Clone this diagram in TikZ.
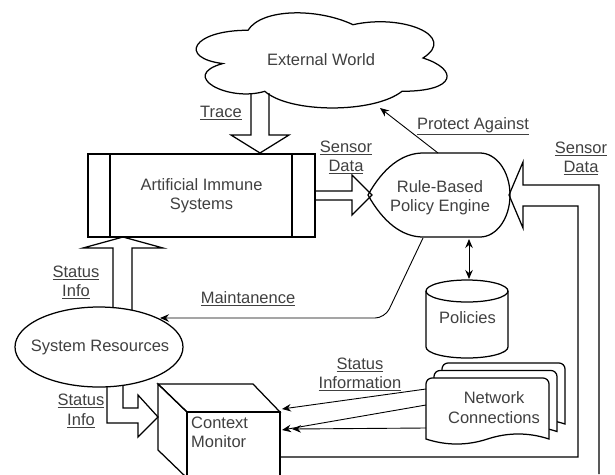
\documentclass[tikz,border=0pt]{standalone}
\usepackage{fontspec}
\setmainfont{Liberation Sans}
\usetikzlibrary{arrows.meta}
\newcommand{\ulx}[1]{\underline{#1}}
\begin{document}
\begin{tikzpicture}[x=1pt,y=-1pt,
  ln/.style={line width=1.25pt, line join=miter, draw=black},
  thin/.style={line width=0.9pt, draw=black},
  arr/.style={thin, -{Stealth[length=9pt,width=7.5pt,inset=3pt]}},
  arrb/.style={thin, {Stealth[length=9pt,width=7.5pt,inset=3pt]}-{Stealth[length=9pt,width=7.5pt,inset=3pt]}},
  txt/.style={font=\fontsize{16.5}{19.5}\selectfont, text=black!75, align=center, inner sep=0pt},
  doc/.pic={
    \filldraw[ln, fill=white] (0,61) -- (0,6) .. controls (0,2.7) and (2.7,0) .. (6,0)
      -- (117,0) .. controls (120.3,0) and (123,2.7) .. (123,6) -- (123,61)
      .. controls (102.5,54.3) and (82,54.3) .. (61.5,61)
      .. controls (41,67.7) and (20.5,67.7) .. (0,61) -- cycle;
  },
]
\useasboundingbox (0,0) rectangle (615,474);
\clip (0,0) rectangle (615,474);

% Cloud: External World
\begin{scope}[shift={(178,2.5)}, x=280pt, y=-111pt]
  \filldraw[ln, fill=white] (0.25,0.25)
    .. controls (0.05,0.25) and (0,0.5) .. (0.16,0.55)
    .. controls (0,0.66) and (0.18,0.9) .. (0.31,0.8)
    .. controls (0.4,1) and (0.7,1) .. (0.8,0.8)
    .. controls (1,0.8) and (1,0.6) .. (0.875,0.5)
    .. controls (1,0.3) and (0.8,0.1) .. (0.625,0.2)
    .. controls (0.5,0.05) and (0.3,0.05) .. cycle;
\end{scope}
\node[txt] (ext) at (321,60) {External World};

% Trace block arrow
\draw[ln] (251,93) -- (251,135) -- (231,135) -- (260,153) -- (289,135) -- (269,135) -- (269,93);
\node[txt] (ltrace) at (221,113) {\ulx{Trace}};

% Artificial Immune Systems box
\node[ln, draw, minimum width=227pt, minimum height=83pt, inner sep=0pt, txt] (ais) at (201.5,195.5) {Artificial Immune\\Systems};
\draw[ln] (110,154) -- (110,237);
\draw[ln] (292,154) -- (292,237);

% Rule-Based Policy Engine
\draw[ln] (368,195) .. controls (383,168) and (402,153) .. (423,153) -- (480,153)
  .. controls (496.6,153) and (510,171.8) .. (510,195)
  .. controls (510,218.2) and (496.6,237) .. (480,237) -- (423,237)
  .. controls (402,237) and (383,222) .. cycle;
\node[txt] (eng) at (440,197.5) {Rule-Based\\Policy Engine};

% Sensor Data (left) block arrow
\draw[ln] (315,191) -- (352,191) -- (352,175) -- (372,195) -- (352,215) -- (352,200) -- (315,200);
\node[txt] (lsens1) at (346,157.5) {\ulx{Sensor}\\\ulx{Data}};

% Sensor Data (right) block arrow
\draw[ln] (599,474) -- (599,185) -- (523,185) -- (523,162) -- (509,195) -- (523,228) -- (523,206) -- (578,206) -- (578,457) -- (280,457);
\node[txt] (lsens2) at (581,158.5) {\ulx{Sensor}\\\ulx{Data}};

% Protect Against
\coordinate (pa1) at (438,153);
\coordinate (pa2) at (380,108);
\draw[arr] (pa1) -- (pa2);
\node[txt] (lprot) at (473,126) {\ulx{Protect Against}};

% Policies cylinder
\draw[ln] (467,291) ellipse [x radius=41, y radius=11];
\draw[ln] (426,291) -- (426,347) .. controls (426,353.1) and (444.4,358) .. (467,358)
  .. controls (489.6,358) and (508,353.1) .. (508,347) -- (508,291);
\node[txt] (pol) at (467.5,318) {Policies};
\coordinate (d1) at (469,239);
\coordinate (d2) at (469,279);
\draw[arrb] (d1) -- (d2);

% Network Connections (multi document)
\pic at (442,363) {doc};
\pic at (434,370.5) {doc};
\pic at (426,378) {doc};
\node[txt] (net) at (494,407.5) {Network\\Connections};

% Maintanence
\coordinate (m1) at (423,238);
\coordinate (m2) at (385,318);
\coordinate (m3) at (160,318);
\draw[arr, rounded corners=10pt] (m1) -- (m2) -- (m3);
\node[txt] (lmaint) at (248,299) {\ulx{Maintanence}};

% System Resources
\draw[ln] (99,347) ellipse [x radius=84, y radius=40];
\node[txt] (sysres) at (100,347) {System Resources};

% Status Info (up) block arrow
\draw[ln] (113,308) -- (113,248) -- (83,248) -- (123,237) -- (163,248) -- (132,248) -- (132,310);
\node[txt] (lstat1) at (76,282.5) {\ulx{Status}\\\ulx{Info}};

% Status Info (to Context Monitor) block arrow
\draw[ln] (107,386) -- (107,423) -- (138,423) -- (138,437) -- (158,417) -- (138,395) -- (138,408) -- (123,408) -- (123,385);
\node[txt] (lstat2) at (81,411) {\ulx{Status}\\\ulx{Info}};

% Context Monitor cube
\draw[ln] (158,384) -- (253,384) -- (280,412) -- (187,412) -- cycle;
\draw[ln] (158,384) -- (187,412) -- (187,478) -- (158,450) -- cycle;
\draw[ln] (187,412) rectangle (280,478);
\node[txt, align=left, anchor=west] (ctx) at (191,432.5) {Context\\Monitor};

% Status Information arrows
\coordinate (n1) at (426,389);
\coordinate (n2) at (426,405);
\coordinate (n3) at (426,428);
\coordinate (c1) at (282,409);
\coordinate (c2) at (282,430);
\coordinate (c3) at (292,429);
\draw[arr] (n1) -- (c1);
\draw[arr] (n2) -- (c2);
\draw[arr] (n3) -- (c3);
\node[txt] (lstatinf) at (360,374.5) {\ulx{Status}\\\ulx{Information}};
\end{tikzpicture}
\end{document}
